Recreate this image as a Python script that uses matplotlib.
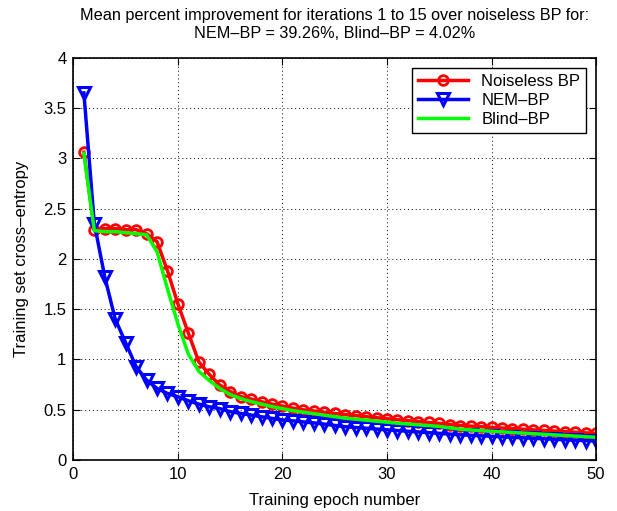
import numpy as np
import matplotlib
matplotlib.use("Agg")
import matplotlib.pyplot as plt

plt.rcParams['font.family'] = ['Liberation Sans', 'DejaVu Sans']

# epochs 1..50
epocas = np.arange(1, 51)

# Noiseless BP
noiseless_bp = [3.06, 2.29, 2.30, 2.30, 2.29, 2.29, 2.25, 2.17, 1.88, 1.55,
                1.26, 0.975, 0.85, 0.745, 0.68, 0.63, 0.605, 0.578, 0.555, 0.535,
                0.515, 0.498, 0.487, 0.473, 0.462, 0.45, 0.44, 0.43, 0.42, 0.41,
                0.40, 0.39, 0.381, 0.372, 0.363, 0.352, 0.342, 0.336, 0.33, 0.323,
                0.317, 0.311, 0.305, 0.299, 0.293, 0.287, 0.281, 0.275, 0.269, 0.263]

# NEM-BP
nem_bp = [3.65, 2.35, 1.82, 1.40, 1.165, 0.927, 0.794, 0.711, 0.661, 0.628,
          0.588, 0.555, 0.528, 0.51, 0.48, 0.462, 0.446, 0.429, 0.413, 0.398,
          0.388, 0.378, 0.368, 0.356, 0.343, 0.33, 0.322, 0.315, 0.307, 0.299,
          0.292, 0.285, 0.278, 0.271, 0.264, 0.257, 0.25, 0.245, 0.24, 0.235,
          0.23, 0.225, 0.22, 0.215, 0.21, 0.205, 0.2, 0.196, 0.192, 0.188]

# Blind-BP
blind_bp = [3.05, 2.28, 2.27, 2.27, 2.26, 2.25, 2.24, 2.07, 1.70, 1.35,
            1.05, 0.88, 0.79, 0.71, 0.65, 0.61, 0.58, 0.555, 0.53, 0.51,
            0.49, 0.475, 0.46, 0.445, 0.43, 0.415, 0.405, 0.395, 0.385, 0.375,
            0.365, 0.357, 0.349, 0.341, 0.333, 0.318, 0.305, 0.298, 0.291, 0.285,
            0.279, 0.273, 0.267, 0.261, 0.255, 0.249, 0.243, 0.237, 0.231, 0.225]

titulo = ("Mean percent improvement for iterations 1 to 15 over noiseless BP for:\n"
          "NEM\u2013BP = 39.26%, Blind\u2013BP = 4.02%")

fig = plt.figure(figsize=(6.17, 5.11), dpi=100)
ax = fig.add_axes([0.119, 0.1, 0.847, 0.787])

ax.plot(epocas, noiseless_bp, color=(1, 0, 0), lw=2.5, marker='o', ms=7,
        mfc='none', mew=2, label='Noiseless BP')
ax.plot(epocas, nem_bp, color=(0, 0, 1), lw=2.5, marker='v', ms=8,
        mfc='none', mew=2.2, label='NEM\u2013BP')
ax.plot(epocas, blind_bp, color=(0, 1, 0), lw=2.5, label='Blind\u2013BP')

ax.set_xlim(0, 50)
ax.set_ylim(0, 4)
ax.set_xticks([0, 10, 20, 30, 40, 50])
ax.set_yticks(np.arange(0, 4.01, 0.5))
ax.set_yticklabels(['0', '0.5', '1', '1.5', '2', '2.5', '3', '3.5', '4'])
ax.grid(True, color='black', linestyle=(0, (1, 3)), linewidth=0.7)
ax.tick_params(direction='in', top=True, right=True, labelsize=12, length=5, pad=5)
for s in ax.spines.values():
    s.set_linewidth(1.2)

ax.set_xlabel('Training epoch number', fontsize=12, labelpad=8)
ax.set_ylabel('Training set cross\u2013entropy', fontsize=12, labelpad=10)
ax.set_title(titulo, fontsize=11.7, pad=14, linespacing=1.25)

leg = ax.legend(loc='upper right', fontsize=12, fancybox=False, edgecolor='black',
                framealpha=1, handlelength=3, borderaxespad=0.6,
                borderpad=0.35, labelspacing=0.25)
leg.get_frame().set_linewidth(1.0)

fig.savefig('out.png', dpi=100)
